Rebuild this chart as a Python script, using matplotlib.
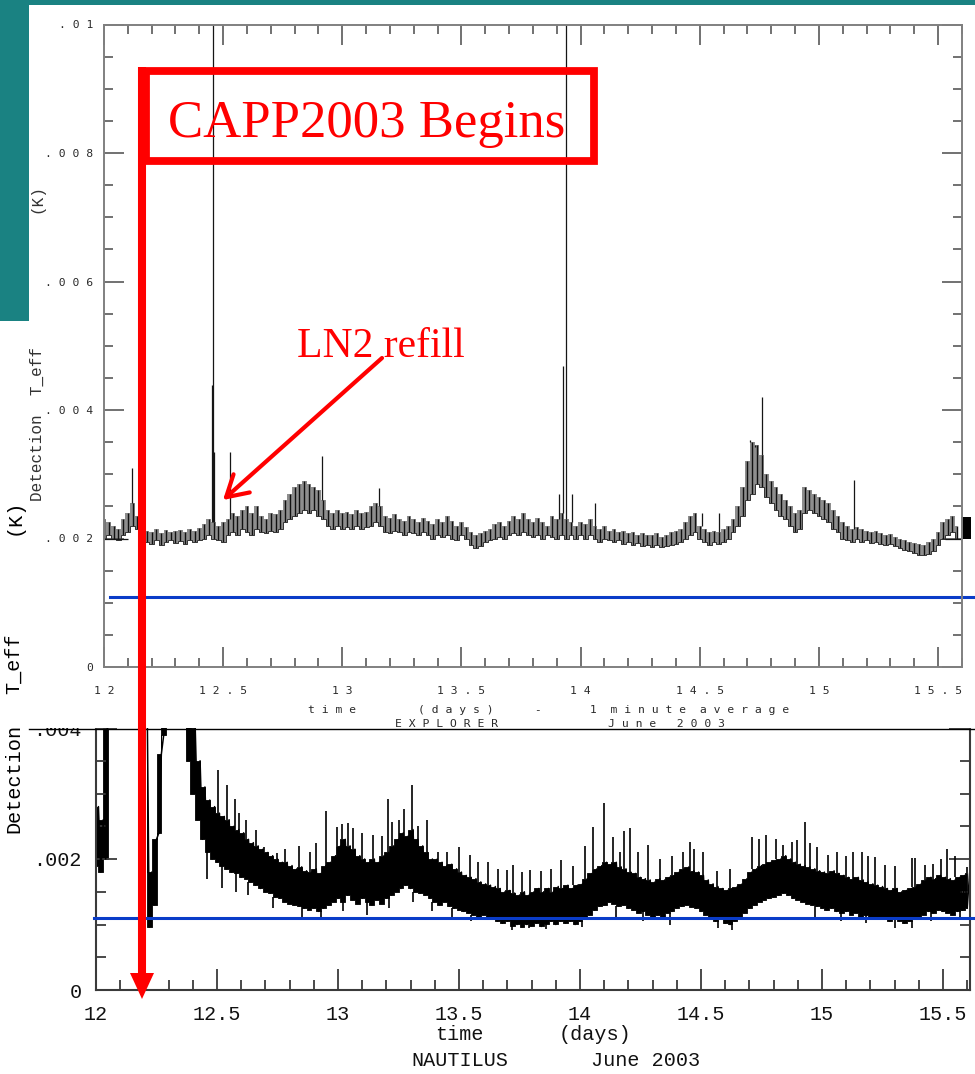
import numpy as np
import matplotlib
matplotlib.use("Agg")
import matplotlib.pyplot as plt
from matplotlib.patches import Rectangle, Polygon, FancyArrowPatch
from matplotlib.lines import Line2D
from matplotlib.transforms import Affine2D
from matplotlib.ticker import MultipleLocator

W, H, DPI = 975, 1074, 100

#-----------------------------EXPLORER, 1 minute average (mK)--------------------------------
# trace kept as low/high value per 0.02 day bin, starting at day 12.0
exp_t0, exp_dt = 12.0, 0.02
exp_lo = [
    2.00, 2.05, 2.00, 1.98, 2.05, 2.10, 2.20, 2.15, 2.00, 1.95,   # 12.0
    1.92, 1.97, 1.90, 1.95, 1.98, 1.93, 1.96, 1.92, 1.97, 1.95,   # 12.2
    1.98, 2.00, 2.05, 2.00, 1.98, 1.95, 2.05, 2.10, 2.05, 2.15,   # 12.4
    2.10, 2.05, 2.15, 2.10, 2.08, 2.12, 2.10, 2.15, 2.25, 2.30,   # 12.6
    2.35, 2.40, 2.45, 2.40, 2.45, 2.35, 2.30, 2.20, 2.15, 2.20,   # 12.8
    2.15, 2.18, 2.15, 2.20, 2.15, 2.18, 2.20, 2.25, 2.20, 2.10,   # 13.0
    2.08, 2.12, 2.10, 2.05, 2.10, 2.08, 2.05, 2.10, 2.05, 2.00,   # 13.2
    2.05, 2.02, 2.05, 2.00, 1.98, 2.05, 2.00, 1.90, 1.85, 1.88,   # 13.4
    1.95, 1.98, 2.00, 2.02, 2.00, 2.05, 2.08, 2.05, 2.10, 2.05,   # 13.6
    2.02, 2.05, 2.00, 2.05, 2.02, 2.00, 2.05, 2.00, 2.05, 2.00,   # 13.8
    2.05, 2.00, 2.05, 2.00, 1.95, 2.00, 1.97, 1.95, 1.98, 1.92,   # 14.0
    1.95, 1.90, 1.93, 1.88, 1.90, 1.87, 1.90, 1.86, 1.88, 1.90,   # 14.2
    1.92, 1.95, 2.00, 2.05, 2.10, 2.00, 1.95, 1.90, 1.95, 1.92,   # 14.4
    1.95, 2.00, 2.10, 2.20, 2.35, 2.60, 2.70, 2.85, 2.80, 2.65,   # 14.6
    2.55, 2.45, 2.35, 2.30, 2.20, 2.10, 2.15, 2.40, 2.45, 2.40,   # 14.8
    2.35, 2.30, 2.25, 2.15, 2.10, 2.00, 1.98, 1.95, 2.00, 1.95,   # 15.0
    1.97, 1.93, 1.95, 1.92, 1.90, 1.92, 1.88, 1.85, 1.82, 1.80,   # 15.2
    1.78, 1.75, 1.74, 1.76, 1.80, 1.90, 2.00, 2.05, 2.10, 2.00,   # 15.4
]
exp_hi = [
    2.30, 2.25, 2.20, 2.15, 2.30, 2.40, 2.55, 2.35, 2.15, 2.12,
    2.10, 2.15, 2.08, 2.13, 2.10, 2.12, 2.14, 2.10, 2.15, 2.12,
    2.16, 2.22, 2.30, 2.25, 2.20, 2.25, 2.30, 2.40, 2.35, 2.45,
    2.50, 2.40, 2.50, 2.35, 2.30, 2.40, 2.38, 2.45, 2.60, 2.70,
    2.80, 2.85, 2.90, 2.85, 2.80, 2.75, 2.60, 2.45, 2.40, 2.45,
    2.40, 2.42, 2.38, 2.45, 2.40, 2.42, 2.50, 2.55, 2.50, 2.35,
    2.32, 2.38, 2.30, 2.28, 2.35, 2.30, 2.25, 2.32, 2.28, 2.22,
    2.30, 2.25, 2.35, 2.28, 2.20, 2.25, 2.18, 2.10, 2.05, 2.08,
    2.12, 2.15, 2.22, 2.25, 2.20, 2.28, 2.35, 2.30, 2.40, 2.30,
    2.25, 2.32, 2.25, 2.20, 2.35, 2.30, 2.40, 2.30, 2.25, 2.20,
    2.25, 2.22, 2.30, 2.20, 2.15, 2.20, 2.12, 2.15, 2.10, 2.12,
    2.08, 2.10, 2.05, 2.08, 2.05, 2.05, 2.08, 2.02, 2.05, 2.10,
    2.12, 2.15, 2.25, 2.35, 2.40, 2.20, 2.15, 2.10, 2.12, 2.10,
    2.15, 2.20, 2.30, 2.50, 2.80, 3.20, 3.50, 3.45, 3.30, 3.00,
    2.90, 2.80, 2.70, 2.60, 2.50, 2.40, 2.45, 2.80, 2.75, 2.70,
    2.65, 2.60, 2.55, 2.45, 2.35, 2.25, 2.20, 2.15, 2.18, 2.15,
    2.12, 2.10, 2.12, 2.08, 2.05, 2.07, 2.03, 2.00, 1.98, 1.95,
    1.93, 1.92, 1.90, 1.95, 2.00, 2.10, 2.25, 2.30, 2.35, 2.20,
]
exp_spike_t = [12.118, 12.452, 12.456, 12.460, 12.529, 12.915, 13.154, 13.909, 13.926,
               13.939, 13.964, 14.060, 14.510, 14.580, 14.711, 14.732, 14.761, 15.147]
exp_spike_v = [3.10, 4.39, 12.0, 3.35, 3.35, 3.28, 2.78, 2.70, 4.68,
               12.0, 2.70, 2.55, 2.40, 2.40, 3.53, 3.43, 4.20, 2.91]
exp_flat_start = [12.00, 15.53]
exp_flat_end = [12.10, 15.60]
exp_flat_v = [2.0, 2.0]
exp_block = (15.595, 15.64, 2.00, 2.33)   # t0, t1, v0, v1
exp_floor = 1.09

#-----------------------------NAUTILUS (mK)--------------------------------------------------
nau_t0, nau_dt = 12.0, 0.02
nau_lo = [
    1.90, 1.80, 2.00, 5.00, 5.00, 5.00, 5.00, 5.00, 5.00, 5.00,   # 12.0
    5.00, 0.96, 1.30, 2.40, 3.90, 5.00, 5.00, 5.00, 5.00, 3.50,   # 12.2
    3.00, 2.60, 2.30, 2.10, 2.00, 1.95, 1.90, 1.85, 1.80, 1.78,   # 12.4
    1.72, 1.70, 1.65, 1.60, 1.55, 1.50, 1.48, 1.42, 1.40, 1.35,   # 12.6
    1.32, 1.30, 1.28, 1.25, 1.22, 1.25, 1.20, 1.25, 1.30, 1.35,   # 12.8
    1.40, 1.35, 1.45, 1.38, 1.32, 1.40, 1.35, 1.30, 1.38, 1.32,   # 13.0
    1.40, 1.45, 1.50, 1.55, 1.60, 1.55, 1.50, 1.48, 1.45, 1.40,   # 13.2
    1.35, 1.30, 1.35, 1.28, 1.25, 1.22, 1.20, 1.18, 1.15, 1.12,   # 13.4
    1.15, 1.10, 1.12, 1.05, 1.02, 1.05, 0.98, 1.00, 0.96, 1.00,   # 13.6
    0.98, 1.02, 0.97, 1.00, 1.05, 1.00, 1.05, 1.02, 1.05, 1.00,   # 13.8
    1.05, 1.10, 1.15, 1.22, 1.28, 1.30, 1.35, 1.32, 1.28, 1.30,   # 14.0
    1.25, 1.22, 1.18, 1.20, 1.15, 1.12, 1.15, 1.12, 1.18, 1.20,   # 14.2
    1.25, 1.28, 1.30, 1.27, 1.25, 1.20, 1.15, 1.10, 1.05, 1.08,   # 14.4
    1.02, 1.00, 1.05, 1.10, 1.18, 1.25, 1.30, 1.35, 1.38, 1.40,   # 14.6
    1.42, 1.45, 1.48, 1.45, 1.40, 1.38, 1.35, 1.32, 1.30, 1.28,   # 14.8
    1.25, 1.22, 1.25, 1.20, 1.18, 1.20, 1.15, 1.18, 1.12, 1.15,   # 15.0
    1.10, 1.12, 1.08, 1.10, 1.05, 1.08, 1.05, 1.02, 1.05, 1.08,   # 15.2
    1.12, 1.15, 1.20, 1.18, 1.22, 1.20, 1.18, 1.15, 1.20, 1.22,   # 15.4
    1.25,                                                         # 15.6
]
nau_hi = [
    2.80, 2.60, 5.00, 5.00, 5.00, 5.00, 5.00, 5.00, 5.00, 5.00,
    5.00, 1.80, 2.30, 3.60, 5.00, 5.00, 5.00, 5.00, 5.00, 4.20,
    4.00, 3.50, 3.10, 2.90, 2.80, 2.70, 2.65, 2.60, 2.50, 2.45,
    2.40, 2.30, 2.25, 2.20, 2.15, 2.10, 2.05, 2.00, 1.95, 1.95,
    1.90, 1.85, 1.88, 1.82, 1.80, 1.85, 1.78, 1.90, 1.95, 2.05,
    2.20, 2.30, 2.20, 2.15, 2.05, 2.00, 1.95, 2.00, 1.95, 2.05,
    2.10, 2.20, 2.30, 2.40, 2.35, 2.45, 2.30, 2.20, 2.10, 2.00,
    2.00, 1.95, 1.90, 1.92, 1.85, 1.80, 1.75, 1.72, 1.70, 1.65,
    1.62, 1.60, 1.58, 1.55, 1.50, 1.52, 1.48, 1.45, 1.50, 1.45,
    1.50, 1.55, 1.50, 1.55, 1.50, 1.58, 1.55, 1.60, 1.55, 1.60,
    1.62, 1.70, 1.78, 1.85, 1.90, 1.95, 1.92, 1.95, 1.88, 1.85,
    1.80, 1.78, 1.72, 1.70, 1.68, 1.65, 1.70, 1.68, 1.72, 1.75,
    1.80, 1.85, 1.88, 1.82, 1.80, 1.75, 1.68, 1.62, 1.58, 1.55,
    1.52, 1.55, 1.58, 1.62, 1.70, 1.80, 1.85, 1.90, 1.92, 1.95,
    1.98, 2.00, 2.05, 2.00, 1.95, 1.92, 1.90, 1.88, 1.85, 1.82,
    1.80, 1.78, 1.82, 1.78, 1.75, 1.72, 1.70, 1.72, 1.68, 1.65,
    1.62, 1.60, 1.58, 1.55, 1.52, 1.55, 1.50, 1.52, 1.55, 1.58,
    1.62, 1.68, 1.72, 1.70, 1.75, 1.72, 1.70, 1.68, 1.72, 1.75,
    1.78,
]
nau_spike_t = [12.503, 12.540, 12.574, 12.590, 12.620, 12.660, 12.694, 12.746, 12.780, 12.840,
               12.884, 12.910, 12.950, 12.995, 13.015, 13.040, 13.063, 13.100, 13.146, 13.180,
               13.205, 13.222, 13.250, 13.274, 13.305, 13.330, 13.367, 13.415, 13.450, 13.500,
               13.545, 13.580, 13.620, 13.660, 13.697, 13.725, 13.760, 13.793, 13.840, 13.880,
               13.920, 13.970, 14.020, 14.055, 14.100, 14.135, 14.165, 14.183, 14.207, 14.240,
               14.282, 14.330, 14.380, 14.427, 14.455, 14.470, 14.507, 14.565, 14.620, 14.710,
               14.740, 14.767, 14.810, 14.840, 14.875, 14.895, 14.930, 14.950, 14.978, 15.026,
               15.060, 15.100, 15.127, 15.164, 15.190, 15.219, 15.260, 15.300, 15.371, 15.384,
               15.426, 15.460, 15.490, 15.518, 15.550, 15.600]
nau_spike_v = [3.36, 3.13, 2.92, 2.70, 2.60, 2.45, 2.18, 2.09, 2.15, 2.20,
               2.11, 2.25, 2.74, 2.49, 2.54, 2.55, 2.47, 2.40, 2.37, 2.35,
               2.92, 2.57, 2.60, 2.77, 3.13, 2.50, 2.60, 2.10, 2.10, 2.18,
               2.06, 1.95, 1.95, 1.85, 1.83, 1.91, 1.80, 1.83, 1.81, 1.85,
               1.98, 1.90, 2.20, 2.49, 2.85, 2.34, 2.11, 2.42, 2.47, 2.10,
               2.21, 2.00, 2.05, 2.11, 2.26, 2.15, 2.10, 1.81, 1.85, 2.34,
               2.30, 2.37, 2.30, 2.21, 2.26, 2.29, 2.57, 2.25, 2.18, 2.06,
               2.10, 2.05, 2.11, 2.10, 2.05, 2.03, 1.91, 1.90, 2.01, 2.01,
               1.91, 1.93, 2.00, 2.16, 2.05, 1.88]
# short downward excursions below the band
nau_dip_t = [12.46, 12.52, 12.58, 12.63, 12.73, 12.85, 12.93, 13.02, 13.12, 13.21,
             13.31, 13.39, 13.47, 13.55, 13.72, 13.79, 13.86, 14.01, 14.15, 14.26,
             14.37, 14.57, 14.63, 14.97, 15.08, 15.18, 15.30, 15.37, 15.45, 15.57]
nau_dip_v = [1.70, 1.55, 1.50, 1.45, 1.25, 1.12, 1.10, 1.20, 1.15, 1.25,
             1.35, 1.20, 1.10, 1.05, 0.92, 0.95, 0.93, 0.96, 1.10, 1.05,
             1.00, 0.95, 0.92, 1.10, 1.05, 1.02, 0.95, 0.95, 1.05, 1.08]
nau_floor = 1.10

#-----------------------------ticks-----------------------------------------------------------
day_ticks = [12, 12.5, 13, 13.5, 14, 14.5, 15, 15.5]
exp_xlabels = ["1 2", "1 2 . 5", "1 3", "1 3 . 5", "1 4", "1 4 . 5", "1 5", "1 5 . 5"]
exp_yticks = [0, 0.002, 0.004, 0.006, 0.008, 0.01]
exp_ylabels = ["0", ". 0 0 2", ". 0 0 4", ". 0 0 6", ". 0 0 8", ". 0 1"]
nau_xlabels = ["12", "12.5", "13", "13.5", "14", "14.5", "15", "15.5"]
nau_yticks = [0, 0.002, 0.004]
nau_ylabels = ["0", ".002", ".004"]

BLUE = "#0a3cc8"
RED = "#ff0000"
TEAL = "#1a8282"
SMALL = "DejaVu Sans Mono"
MONO = "Liberation Mono"


def zigzag(t0, dt, lo, hi):
    t = t0 + dt * np.arange(len(lo))
    tt = np.column_stack([t, t + dt / 2]).ravel()
    vv = np.column_stack([lo, hi]).ravel() * 1e-3
    return tt, vv


def nearest(t0, dt, arr, ts):
    idx = np.clip(np.round((np.asarray(ts) - t0) / dt).astype(int), 0, len(arr) - 1)
    return np.asarray(arr)[idx] * 1e-3


fig = plt.figure(figsize=(W / DPI, H / DPI), dpi=DPI)
fig.patch.set_facecolor("white")
# pixel coordinates measured from the top-left corner
pix = Affine2D().scale(1 / DPI, -1 / DPI).translate(0, H / DPI) + fig.dpi_scale_trans


def ftext(x, y, s, **kw):
    kw.setdefault("zorder", 4)
    return fig.text(x, y, s, transform=pix, **kw)


#-----------------------------NAUTILUS panel (underneath)-----------------------------------
ax2 = fig.add_axes([96 / W, 1 - 990 / H, 874 / W, 262 / H], zorder=1)
ax2.set_xlim(12, 12 + 874 / 242)
ax2.set_ylim(0, 0.004)
ax2.spines["top"].set_visible(False)
for s in ["left", "right", "bottom"]:
    ax2.spines[s].set_color("#3a3a3a")
    ax2.spines[s].set_linewidth(1.5)
ax2.set_xticks(day_ticks, nau_xlabels, family=MONO, fontsize=14.5, color="#111111")
ax2.set_yticks(nau_yticks, nau_ylabels, family=MONO, fontsize=14.5, color="#111111")
ax2.xaxis.set_minor_locator(MultipleLocator(0.1))
ax2.yaxis.set_minor_locator(MultipleLocator(0.0005))
ax2.tick_params(which="both", direction="in", right=True, top=False, color="#3a3a3a", width=1.3)
ax2.tick_params(which="major", length=15)
ax2.tick_params(which="minor", length=7)
ax2.tick_params(axis="x", which="major", pad=11)
ax2.tick_params(axis="y", which="major", pad=10)

tn = nau_t0 + nau_dt * np.arange(len(nau_lo))
ax2.fill_between(tn, np.array(nau_lo) * 1e-3, np.array(nau_hi) * 1e-3, step="mid",
                 facecolor="black", edgecolor="black", lw=0.6)
tt, vv = zigzag(nau_t0, nau_dt, nau_lo, nau_hi)
ax2.plot(tt, vv, color="black", lw=1.1)
ax2.vlines(nau_spike_t, nearest(nau_t0, nau_dt, nau_hi, nau_spike_t),
           np.array(nau_spike_v) * 1e-3, color="black", lw=1.2)
ax2.vlines(nau_dip_t, np.array(nau_dip_v) * 1e-3,
           nearest(nau_t0, nau_dt, nau_lo, nau_dip_t), color="black", lw=1.2)
ax2.plot([11.99, 15.632], [nau_floor * 1e-3] * 2, color=BLUE, lw=2.2, clip_on=False, zorder=3)

ftext(459, 1035, "time", family=MONO, fontsize=14.5, ha="center", va="center", color="#111111")
ftext(595, 1035, "(days)", family=MONO, fontsize=14.5, ha="center", va="center", color="#111111")
ftext(460, 1060, "NAUTILUS", family=MONO, fontsize=14.5, ha="center", va="center", color="#111111")
ftext(646, 1060, "June 2003", family=MONO, fontsize=14.5, ha="center", va="center", color="#111111")
ftext(14, 778, "Detection", family=MONO, fontsize=14.5, rotation=90, ha="center", va="center")
ftext(14, 664, "T_eff", family=MONO, fontsize=14.5, rotation=90, ha="center", va="center")
ftext(14, 517, "(K)", family=MONO, fontsize=14.5, rotation=90, ha="center", va="center")

# white sheet of the upper panel lying over the lower one
fig.add_artist(Rectangle((29, 5), 946, 723, transform=pix, facecolor="white",
                         edgecolor="none", zorder=2))
fig.add_artist(Line2D([29, 975], [728.5, 728.5], transform=pix, color="black", lw=1.0, zorder=2.5))

#-----------------------------EXPLORER panel-------------------------------------------------
ax1 = fig.add_axes([104 / W, 1 - 667 / H, 858 / W, 642.5 / H], zorder=3)
ax1.patch.set_visible(False)
ax1.set_xlim(12, 12 + 858 / 238.3)
ax1.set_ylim(0, 0.01)
for s in ax1.spines.values():
    s.set_color("#808080")
    s.set_linewidth(1.4)
ax1.set_xticks(day_ticks, exp_xlabels, family=SMALL, fontsize=8.2, color="#2a2a2a")
ax1.set_yticks(exp_yticks, exp_ylabels, family=SMALL, fontsize=8.2, color="#2a2a2a")
ax1.xaxis.set_minor_locator(MultipleLocator(0.1))
ax1.yaxis.set_minor_locator(MultipleLocator(0.0005))
ax1.tick_params(which="both", direction="in", top=True, right=True, color="#4a4a4a", width=1.1)
ax1.tick_params(which="major", length=14.5)
ax1.tick_params(which="minor", length=6.5)
ax1.tick_params(axis="x", which="major", pad=14)
ax1.tick_params(axis="y", which="major", pad=8)

te = exp_t0 + exp_dt * np.arange(len(exp_lo))
lo_e = np.array(exp_lo) * 1e-3
hi_e = np.array(exp_hi) * 1e-3
ax1.fill_between(te, lo_e, hi_e, step="mid", facecolor="#8e8e8e", edgecolor="none")
ax1.vlines(te, lo_e, hi_e, color="#111111", lw=1.0)
ax1.step(te, lo_e, where="mid", color="#333333", lw=0.7)
ax1.vlines(exp_spike_t, nearest(exp_t0, exp_dt, exp_hi, exp_spike_t),
           np.array(exp_spike_v) * 1e-3, color="#151515", lw=0.9)
ax1.hlines(np.array(exp_flat_v) * 1e-3, exp_flat_start, exp_flat_end, color="#151515", lw=0.9)
b = exp_block
ax1.add_patch(Rectangle((b[0], b[2] * 1e-3), b[1] - b[0], (b[3] - b[2]) * 1e-3,
                        facecolor="black", edgecolor="none", clip_on=False))
ax1.plot([12.025, 15.655], [exp_floor * 1e-3] * 2, color=BLUE, lw=2.2, clip_on=False)

ftext(308, 710, "t i m e         ( d a y s )      -       1  m i n u t e  a v e r a g e",
      family=SMALL, fontsize=8.2, ha="left", va="center", color="#2a2a2a")
ftext(395, 724, "E X P L O R E R                J u n e   2 0 0 3",
      family=SMALL, fontsize=8.2, ha="left", va="center", color="#2a2a2a")
ftext(37, 199, "(K)", family=MONO, fontsize=11.5, rotation=90, ha="center", va="center", color="#333333")
ftext(37, 424, "Detection  T_eff", family=MONO, fontsize=11.5, rotation=90, ha="center",
      va="center", color="#333333")

#-----------------------------slide background and red notes--------------------------------
fig.add_artist(Rectangle((0, 0), 975, 5, transform=pix, facecolor=TEAL, edgecolor="none", zorder=6))
fig.add_artist(Rectangle((0, 0), 29, 321, transform=pix, facecolor=TEAL, edgecolor="none", zorder=6))

fig.add_artist(Rectangle((145.5, 70.5), 448.5, 90.5, transform=pix, fill=False,
                         edgecolor=RED, lw=5.6, joinstyle="miter", zorder=7))
fig.add_artist(Line2D([142, 142], [66.5, 976], transform=pix, color=RED, lw=5.8,
                      solid_capstyle="butt", zorder=7))
fig.add_artist(Polygon([(130, 973), (154, 973), (142, 999)], closed=True, transform=pix,
                       facecolor=RED, edgecolor="none", zorder=7))
ftext(168, 137, "CAPP2003 Begins", family="Liberation Serif", fontsize=38, color=RED,
      ha="left", va="baseline", zorder=7)

ftext(297, 357, "LN2 refill", family="Liberation Serif", fontsize=30, color=RED,
      ha="left", va="baseline", zorder=7)
fig.add_artist(FancyArrowPatch(posA=(382, 358), posB=(223, 500), transform=pix,
                               arrowstyle="->,head_length=0.6,head_width=0.35",
                               mutation_scale=25, color=RED, lw=3.0,
                               shrinkA=0, shrinkB=0, zorder=7))

fig.savefig("out.png", dpi=DPI)
